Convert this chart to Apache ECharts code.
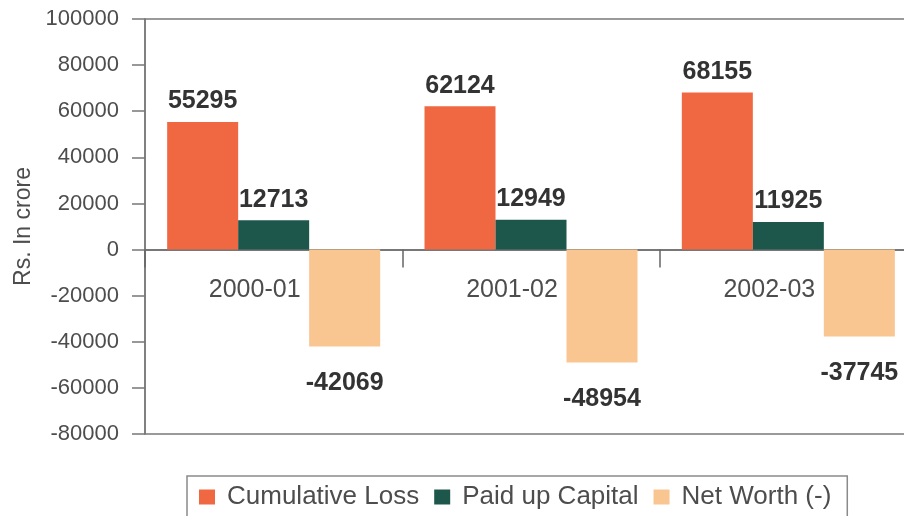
<!DOCTYPE html>
<html>
<head>
<meta charset="utf-8">
<script src="https://cdn.jsdelivr.net/npm/echarts@6/dist/echarts.min.js"></script>
<style>
  html, body { margin: 0; padding: 0; background: #fff; }
  #chart { width: 904px; height: 516px; }
</style>
</head>
<body>
<div id="chart"></div>
<script>
// data
const years = ['2000-01', '2001-02', '2002-03']
const cumulativeLoss = [55295, 62124, 68155]
const paidUpCapital = [12713, 12949, 11925]
const netWorth = [-42069, -48954, -37745]
const yTicks = { min: -80000, max: 100000, step: 20000 }
const seriesNames = ['Cumulative Loss', 'Paid up Capital', 'Net Worth (-)']

const colors = ['#ef6842', '#1d574b', '#f9c590']
const font = 'Liberation Sans, Arial, sans-serif'

function barSeries (name, data, color) {
  return {
    name: name,
    type: 'bar',
    data: data,
    barWidth: 71,
    barGap: '0%',
    itemStyle: { color: color },
    label: {
      show: true,
      fontFamily: font,
      fontSize: 25,
      fontWeight: 'bold',
      color: '#333',
      position: 'top',
      distance: 8
    }
  }
}

const series = [
  barSeries(seriesNames[0], cumulativeLoss, colors[0]),
  barSeries(seriesNames[1], paidUpCapital, colors[1]),
  barSeries(seriesNames[2], netWorth, colors[2])
]
// negative bars get their value under the bar, a bit further away
series[2].label.position = 'bottom'
series[2].label.distance = 24

// category names sit just under the zero line (not at the grid bottom),
// a little left of the category centre like in the original
series.push({
  type: 'scatter',
  data: years.map(() => 0),
  symbolSize: 0,
  silent: true,
  itemStyle: { opacity: 1 },
  label: {
    show: true,
    position: 'bottom',
    distance: 28,
    offset: [-19, 0],
    fontFamily: font,
    fontSize: 25,
    color: '#4d4d4d',
    formatter: p => years[p.dataIndex]
  }
})

const option = {
  animation: false,
  textStyle: { fontFamily: font },
  grid: {
    left: 145, top: 19, width: 772, bottom: 82,
    outerBoundsMode: 'none',
    show: true,
    borderColor: '#7a7a7a',
    borderWidth: 1.5
  },
  legend: {
    data: seriesNames,
    left: 187,
    top: 476,
    padding: [8, 16, 40, 12],
    borderColor: '#8a8a8a',
    borderWidth: 1.5,
    icon: 'rect',
    itemWidth: 16,
    itemHeight: 15,
    itemGap: 15,
    textStyle: { fontSize: 26, color: '#4d4d4d', fontFamily: font, padding: [0, 0, 0, 7] }
  },
  xAxis: {
    type: 'category',
    data: years,
    axisLine: { onZero: true, lineStyle: { color: '#777', width: 2 } },
    axisTick: { show: true, length: 18, lineStyle: { color: '#666', width: 1.5 } },
    axisLabel: { show: false }
  },
  yAxis: {
    type: 'value',
    min: yTicks.min,
    max: yTicks.max,
    interval: yTicks.step,
    name: 'Rs. In crore',
    nameLocation: 'middle',
    nameGap: 110,
    nameTextStyle: { fontSize: 23, color: '#4d4d4d' },
    axisLine: { show: true, lineStyle: { color: '#777', width: 1.5 } },
    axisTick: { show: true, length: 13, lineStyle: { color: '#777', width: 1.5 } },
    axisLabel: { margin: 26, fontSize: 22, color: '#4d4d4d', formatter: v => String(v) },
    splitLine: { show: false }
  },
  series: series
}

echarts.init(document.getElementById('chart')).setOption(option)
</script>
</body>
</html>
